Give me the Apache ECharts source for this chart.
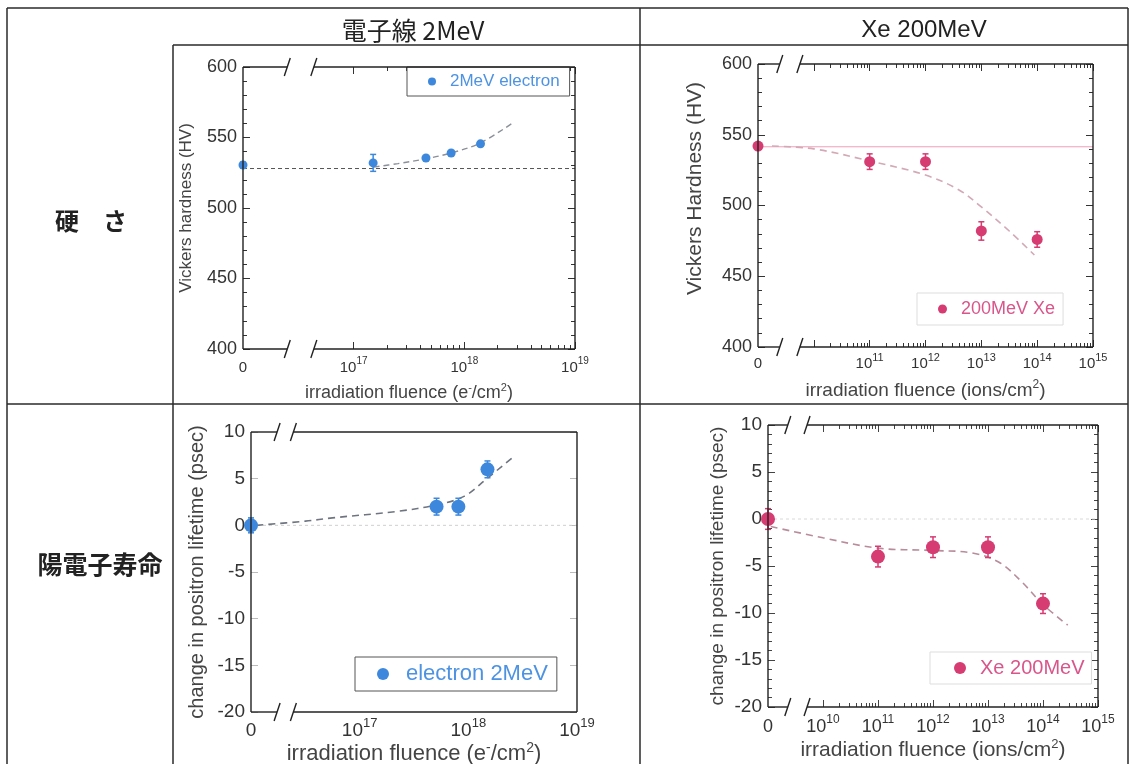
<!DOCTYPE html>
<html><head><meta charset="utf-8">
<script src="https://cdn.jsdelivr.net/npm/echarts@6/dist/echarts.min.js"></script>
<style>html,body{margin:0;padding:0;background:#fff}#c{width:1130px;height:764px}</style>
</head><body><div id="c"></div>
<script>
// ---------------- data ----------------
const colTitles = ['電子線 2MeV', 'Xe 200MeV'];
const rowTitles = ['硬\u3000さ', '陽電子寿命'];
const seriesNames = ['2MeV electron', '200MeV Xe', 'electron 2MeV', 'Xe 200MeV'];
const xAxisNames = ['irradiation fluence (e{s|-}/cm{s|2})', 'irradiation fluence (ions/cm{s|2})',
                    'irradiation fluence (e{s|-}/cm{s|2})', 'irradiation fluence (ions/cm{s|2})'];
const yAxisNames = ['Vickers hardness (HV)', 'Vickers Hardness (HV)',
                    'change in positron lifetime (psec)', 'change in positron lifetime (psec)'];

// x tick labels (decade exponents; the first one of each list is shown as "0")
const elecTickExp = [16, 17, 18, 19];
const xeTickExpTop = [9, 11, 12, 13, 14, 15];
const xeTickExpBottom = [9, 10, 11, 12, 13, 14, 15];

// Top-left: Vickers hardness, 2 MeV electrons
const hvElecFluence = [0, 1.5e17, 4.5e17, 7.6e17, 1.4e18];
const hvElecValue   = [530.5, 532, 535.5, 539, 545.5];
const hvElecErr     = [2, 6, 1.5, 1.5, 1.5];
const hvElecFitExp  = [17.18, 17.4, 17.66, 17.88, 18.14, 18.45];
const hvElecFitVal  = [529, 531.5, 535, 539, 546, 561];
const hvElecBase    = 528;

// Top-right: Vickers hardness, 200 MeV Xe
const hvXeFluence = [0, 1e11, 1e12, 1e13, 1e14];
const hvXeValue   = [542, 531, 531, 482, 476];
const hvXeErr     = [2, 5.5, 5.5, 6.5, 5.5];
const hvXeFitExp  = [9.25, 10, 11, 12, 12.6, 13, 13.5, 13.95];
const hvXeFitVal  = [542, 540, 531.5, 521.5, 511, 499, 482, 465];
const hvXeBase    = 541.5;

// Bottom-left: positron lifetime change, 2 MeV electrons
const plElecFluence = [0, 5.1e17, 8.1e17, 1.5e18];
const plElecValue   = [0, 2, 2, 6];
const plElecErr     = [0.8, 0.9, 0.9, 0.9];
const plElecFitExp  = [16.05, 16.5, 16.75, 17.35, 17.71, 17.96, 18.17, 18.4];
const plElecFitVal  = [0, 0.45, 0.8, 1.5, 2.2, 3.1, 5.0, 7.2];
const plElecBase    = 0;

// Bottom-right: positron lifetime change, 200 MeV Xe
const plXeFluence = [0, 1e11, 1e12, 1e13, 1e14];
const plXeValue   = [0, -4, -3, -3, -9];
const plXeErr     = [1.1, 1.1, 1.1, 1.1, 1.05];
const plXeFitExp  = [9.05, 10, 11, 12, 12.7, 13.2, 13.6, 14, 14.45];
const plXeFitVal  = [-0.8, -2, -3.1, -3.35, -3.6, -4.6, -6.6, -9.1, -11.3];
const plXeBase    = 0;

// ---------------- styles / layout ----------------
const FONT = '"Liberation Sans", Arial, Helvetica, sans-serif';
const CJK = '"Noto Sans CJK JP", "Noto Sans CJK SC", sans-serif';
const BLUE = '#3d88dc', BLUE_TXT = '#4d93e2', PINK = '#d63b72', PINK_TXT = '#d9568a';

const panels = [
  { grid:{left:243, top:67, width:332, height:282}, xMin:16, xMax:19, labels:elecTickExp, majors:[17,18,19], minorDec:[17,18], breaks:[16.40,16.64],
    yMin:400, yMax:600, yInt:50, yMinor:5, tickFs:15, supFs:10, yTickFs:18, xNameFs:18, yNameFs:17, xMargin:7, yMargin:6, xNameGap:33, yNameGap:48, yNamePad:0,
    color:BLUE, txt:BLUE_TXT, sym:9, tickColor:'#333',
    fl:hvElecFluence, val:hvElecValue, err:hvElecErr, fitX:hvElecFitExp, fitY:hvElecFitVal, base:hvElecBase,
    fitStyle:{color:'#8a8f99', width:1.4, type:[6,4]}, baseStyle:{color:'#555', width:1, type:[4,3]},
    legend:{left:407, top:67, pad:[6,10,6,21], icon:8, gap:9, fs:17, border:'#555'} },
  { grid:{left:758, top:64, width:335, height:283}, xMin:9, xMax:15, labels:xeTickExpTop, majors:[10,11,12,13,14,15], minorDec:[10,11,12,13,14], breaks:[9.39,9.75],
    yMin:400, yMax:600, yInt:50, yMinor:5, tickFs:15, supFs:11, yTickFs:18, xNameFs:19, yNameFs:21, xMargin:5, yMargin:6, xNameGap:32, yNameGap:52, yNamePad:34,
    color:PINK, txt:PINK_TXT, sym:11, tickColor:'#333',
    fl:hvXeFluence, val:hvXeValue, err:hvXeErr, fitX:hvXeFitExp, fitY:hvXeFitVal, base:hvXeBase,
    fitStyle:{color:'#d3a9b6', width:1.6, type:[7,5]}, baseStyle:{color:'#ef9fba', width:1, type:'solid'},
    legend:{left:917, top:293, pad:[7,8,7,21], icon:9, gap:9, fs:18, border:'#dddddd'} },
  { grid:{left:251, top:432, width:326, height:280}, xMin:16, xMax:19, labels:elecTickExp, majors:[], minorDec:[], breaks:[16.24,16.39],
    yMin:-20, yMax:10, yInt:5, yMinor:0, tickFs:19, supFs:13, yTickFs:19, xNameFs:22, yNameFs:20, xMargin:5, yMargin:6, xNameGap:26, yNameGap:44, yNamePad:0,
    color:BLUE, txt:BLUE_TXT, sym:14, tickColor:'#bbb',
    fl:plElecFluence, val:plElecValue, err:plElecErr, fitX:plElecFitExp, fitY:plElecFitVal, base:plElecBase,
    fitStyle:{color:'#6f7580', width:1.6, type:[7,5]}, baseStyle:{color:'#cfcfcf', width:1, type:[3,3]},
    legend:{left:355, top:657, pad:[6,9,6,22], icon:12, gap:12, fs:22, border:'#555'} },
  { grid:{left:768, top:425, width:330, height:282}, xMin:9, xMax:15, labels:xeTickExpBottom, majors:[10,11,12,13,14,15], minorDec:[10,11,12,13,14], breaks:[9.36,9.71],
    yMin:-20, yMax:10, yInt:5, yMinor:5, tickFs:18, supFs:12, yTickFs:19, xNameFs:21, yNameFs:19, xMargin:7, yMargin:6, xNameGap:31, yNameGap:41, yNamePad:0,
    color:PINK, txt:PINK_TXT, sym:14, tickColor:'#444',
    fl:plXeFluence, val:plXeValue, err:plXeErr, fitX:plXeFitExp, fitY:plXeFitVal, base:plXeBase,
    fitStyle:{color:'#b88c9a', width:1.6, type:[7,5]}, baseStyle:{color:'#d8d8d8', width:1, type:[3,3]},
    legend:{left:930, top:652, pad:[6,7,6,24], icon:12, gap:9, fs:20, border:'#dddddd'} }
];

function toExp(f, min) { return f === 0 ? min : Math.log10(f); }
function minorTicks(decs) {
  const out = [];
  decs.forEach(n => { for (let k = 2; k <= 9; k++) out.push(n + Math.log10(k)); });
  return out;
}

const grids = [], xAxes = [], yAxes = [], series = [], legends = [];
panels.forEach((p, i) => {
  grids.push(Object.assign({containLabel:false, outerBoundsMode:'none'}, p.grid));
  const tl = {color:p.tickColor, width:1};
  const noLine = {show:false, onZero:false};
  const nSup = Math.round(p.xNameFs * 0.62);
  const nameRich = {
    s:{fontSize:nSup, fontFamily:FONT, color:'#444', verticalAlign:'top', lineHeight:nSup}
  };
  const lh = p.tickFs + 4;
  xAxes.push({
    type:'value', gridIndex:i, min:p.xMin, max:p.xMax, interval:1, position:'bottom',
    axisLine:noLine, splitLine:{show:false},
    axisTick:{show:p.majors.length>0, inside:true, length:7, customValues:p.majors, lineStyle:tl},
    axisLabel:{show:true, customValues:p.labels, margin:p.xMargin, fontSize:p.tickFs, fontFamily:FONT, color:'#333',
      lineHeight:lh, verticalAlign:'top',
      formatter: v => (v === p.xMin ? '{z|0}' : '{b|10}{s|' + Math.round(v) + '}'),
      rich:{b:{fontSize:p.tickFs, fontFamily:FONT, color:'#333', lineHeight:lh, verticalAlign:'bottom'},
            z:{fontSize:p.tickFs, fontFamily:FONT, color:'#333', lineHeight:lh, verticalAlign:'bottom'},
            s:{fontSize:p.supFs, fontFamily:FONT, color:'#333', lineHeight:p.supFs, verticalAlign:'top'}}},
    name:xAxisNames[i], nameLocation:'middle', nameGap:p.xNameGap,
    nameTextStyle:{fontSize:p.xNameFs, fontFamily:FONT, color:'#444', lineHeight:p.xNameFs + 4, rich:nameRich}
  });
  const minors = minorTicks(p.minorDec);
  xAxes.push({type:'value', gridIndex:i, min:p.xMin, max:p.xMax, position:'bottom', axisLine:noLine, splitLine:{show:false},
    axisLabel:{show:false}, axisTick:{show:minors.length>0, inside:true, length:4, customValues:minors, lineStyle:tl}});
  xAxes.push({type:'value', gridIndex:i, min:p.xMin, max:p.xMax, position:'top', axisLine:noLine, splitLine:{show:false},
    axisLabel:{show:false}, axisTick:{show:p.majors.length>0, inside:true, length:7, customValues:p.majors, lineStyle:tl}});
  xAxes.push({type:'value', gridIndex:i, min:p.xMin, max:p.xMax, position:'top', axisLine:noLine, splitLine:{show:false},
    axisLabel:{show:false}, axisTick:{show:minors.length>0, inside:true, length:4, customValues:minors, lineStyle:tl}});

  const yCommon = {type:'value', gridIndex:i, min:p.yMin, max:p.yMax, interval:p.yInt, axisLine:noLine, splitLine:{show:false},
    axisTick:{show:true, inside:true, length:7, lineStyle:tl},
    minorTick:{show:p.yMinor>0, splitNumber:p.yMinor||5, length:4, lineStyle:tl}};
  yAxes.push(Object.assign({}, yCommon, {position:'left',
    axisLabel:{margin:p.yMargin, fontSize:p.yTickFs, fontFamily:FONT, color:'#333'},
    name:yAxisNames[i], nameLocation:'middle', nameGap:p.yNameGap,
    nameTextStyle:{fontSize:p.yNameFs, fontFamily:FONT, color:'#444', padding:[0,0,0,p.yNamePad]}}));
  yAxes.push(Object.assign({}, yCommon, {position:'right', axisLabel:{show:false}}));

  const xi = 4 * i, yi = 2 * i;
  // reference line
  series.push({type:'line', name:'base' + i, xAxisIndex:xi, yAxisIndex:yi, symbol:'none', silent:true, z:1,
    data:[[p.xMin, p.base], [p.xMax, p.base]], lineStyle:p.baseStyle});
  // fitted trend
  series.push({type:'line', name:'fit' + i, xAxisIndex:xi, yAxisIndex:yi, symbol:'none', silent:true, smooth:0.35, z:2,
    data:p.fitX.map((x, k) => [x, p.fitY[k]]), lineStyle:p.fitStyle});
  // error bars
  series.push({type:'custom', name:'err' + i, xAxisIndex:xi, yAxisIndex:yi, silent:true, z:3,
    data:p.fl.map((f, k) => [toExp(f, p.xMin), p.val[k], p.err[k]]),
    renderItem:(params, api) => {
      const x = api.value(0), y = api.value(1), e = api.value(2);
      const a = api.coord([x, y - e]), b = api.coord([x, y + e]);
      const c = 3, st = {stroke:p.color, lineWidth:1.5};
      return {type:'group', children:[
        {type:'line', shape:{x1:a[0], y1:a[1], x2:b[0], y2:b[1]}, style:st},
        {type:'line', shape:{x1:a[0]-c, y1:a[1], x2:a[0]+c, y2:a[1]}, style:st},
        {type:'line', shape:{x1:b[0]-c, y1:b[1], x2:b[0]+c, y2:b[1]}, style:st}
      ]};
    }});
  // points
  series.push({type:'scatter', name:seriesNames[i], xAxisIndex:xi, yAxisIndex:yi, symbol:'circle', symbolSize:p.sym, z:4,
    itemStyle:{color:p.color, opacity:1}, data:p.fl.map((f, k) => [toExp(f, p.xMin), p.val[k]])});

  const L = p.legend;
  legends.push({data:[seriesNames[i]], left:L.left, top:L.top, orient:'horizontal', selectedMode:false,
    padding:L.pad, itemWidth:L.icon, itemHeight:L.icon, icon:'circle', borderColor:L.border, borderWidth:1,
    backgroundColor:'#fff',
    textStyle:{color:p.txt, fontSize:L.fs, fontFamily:FONT, padding:[0,0,0,L.gap]}});
});

const chart = echarts.init(document.getElementById('c'), null, {renderer:'canvas'});
chart.setOption({animation:false, backgroundColor:'#fff', grid:grids, xAxis:xAxes, yAxis:yAxes, series:series, legend:legends});

// ---------------- table, titles, frames with axis breaks ----------------
const g = [];
const lineStyle = {stroke:'#2a2a2a', lineWidth:1.5};
function L(x1, y1, x2, y2, st) { g.push({type:'line', z:50, shape:{x1, y1, x2, y2}, style:st || lineStyle}); }
// table grid
L(7, 8, 1128, 8); L(7, 8, 7, 764); L(1128, 8, 1128, 764);
L(173, 45, 1128, 45); L(173, 45, 173, 764); L(640, 8, 640, 764); L(7, 404, 1128, 404);
// headers
function T(text, x, y, size, family, weight) {
  g.push({type:'text', z:50, x, y, style:{text, fontSize:size, fontFamily:family, fontWeight:weight || 'normal', fill:'#222',
    align:'center', verticalAlign:'middle', textAlign:'center', textVerticalAlign:'middle'}});
}
T(colTitles[0], 413, 30, 25, CJK);
T(colTitles[1], 924, 30, 24, FONT);
T(rowTitles[0], 91, 221, 24, CJK, 'bold');
T(rowTitles[1], 100, 564, 25, CJK, 'bold');

// plot frames
const fr = {stroke:'#222', lineWidth:1.4};
panels.forEach((p, i) => {
  const x0 = p.grid.left, x1 = p.grid.left + p.grid.width, y0 = p.grid.top, y1 = p.grid.top + p.grid.height;
  const b1 = chart.convertToPixel({xAxisIndex:4*i}, p.breaks[0]);
  const b2 = chart.convertToPixel({xAxisIndex:4*i}, p.breaks[1]);
  L(x0, y0, x0, y1, fr); L(x1, y0, x1, y1, fr);
  [y0, y1].forEach(y => {
    L(x0, y, b1, y, fr); L(b2, y, x1, y, fr);
    L(b1 - 3, y + 9, b1 + 3, y - 9, fr); L(b2 - 3, y + 9, b2 + 3, y - 9, fr);
  });
});
chart.setOption({graphic:{elements:g}});
</script></body></html>
